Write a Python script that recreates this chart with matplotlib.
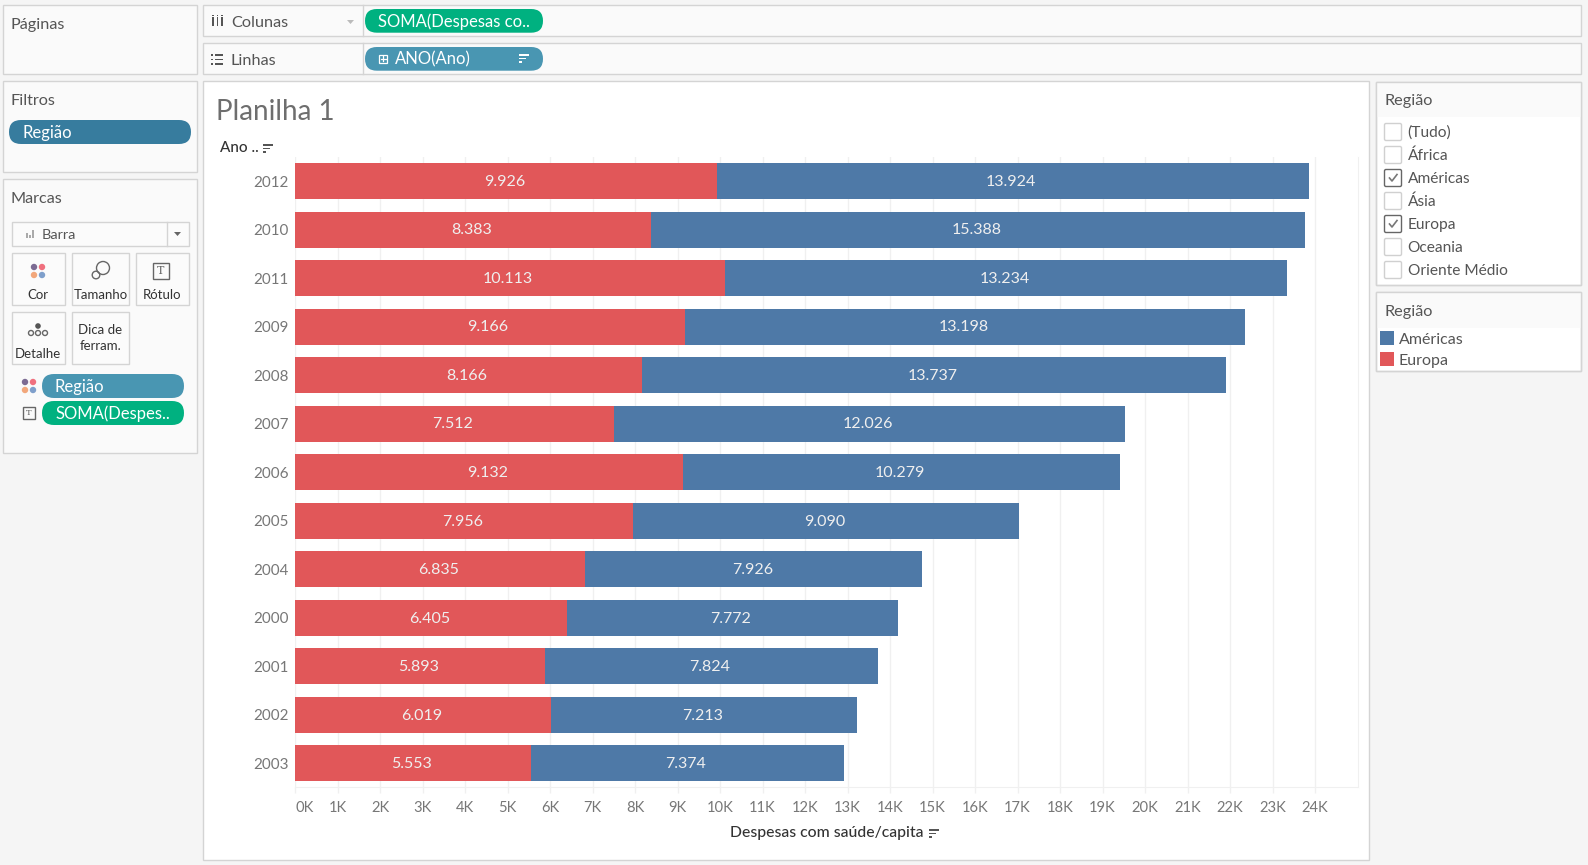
#!/usr/bin/env python3
"""Tableau worksheet: health spending per capita by year, Americas vs Europe"""

import matplotlib
matplotlib.use("Agg")
import matplotlib.pyplot as plt
from matplotlib.patches import Rectangle, FancyBboxPatch, Circle, Polygon
from matplotlib.ticker import FuncFormatter

W, H = 1588, 865

years = ["2012", "2010", "2011", "2009", "2008", "2007", "2006",
         "2005", "2004", "2000", "2001", "2002", "2003"]
europa = [9926, 8383, 10113, 9166, 8166, 7512, 9132, 7956, 6835, 6405, 5893, 6019, 5553]
americas = [13924, 15388, 13234, 13198, 13737, 12026, 10279, 9090, 7926, 7772, 7824, 7213, 7374]
x_ticks = list(range(0, 25000, 1000))

filter_items = ["(Tudo)", "África", "Américas", "Ásia", "Europa", "Oceania", "Oriente Médio"]
filter_checked = ["Américas", "Europa"]
legend_items = ["Américas", "Europa"]

RED = "#E15759"
BLUE = "#4E79A7"
BG = "#F5F5F5"
PANEL = "#FAFAFA"
BORDER = "#D4D4D4"
GRID = "#F0F0F0"
GREEN_PILL = "#00B180"
BLUE_PILL = "#4996B2"
DARK_PILL = "#377C9E"
TEXT = "#555555"
TICK = "#777777"
DARK = "#333333"

plt.rcParams["font.family"] = ["Lato", "DejaVu Sans"]

fig = plt.figure(figsize=(W / 100, H / 100), dpi=100, facecolor=BG)

# overlay in pixel coordinates for the Tableau window around the chart
ui = fig.add_axes([0, 0, 1, 1], zorder=0)
ui.set_xlim(0, W)
ui.set_ylim(H, 0)
ui.axis("off")


def box(x0, y0, x1, y1, face=PANEL, edge=BORDER, lw=1.0):
    ui.add_patch(Rectangle((x0, y0), x1 - x0, y1 - y0, facecolor=face, edgecolor=edge, linewidth=lw))


def label(x, y, s, size=11.7, color=TEXT, ha="left", **kw):
    # lato sits about a pixel high with va=center
    ui.text(x, y + 1, s, fontsize=size, color=color, ha=ha, va="center", **kw)


def pill(x0, y0, x1, y1, color, s, text_x=None):
    h = y1 - y0
    ui.add_patch(FancyBboxPatch((x0, y0), x1 - x0, h, boxstyle=f"round,pad=0,rounding_size={h / 2}",
                                facecolor=color, edgecolor="none"))
    label(text_x if text_x else x0 + 13, (y0 + y1) / 2, s, size=12, color="white")


def sort_icon(x, y, color="#555555"):
    for i, w in enumerate([10, 7, 3]):
        ui.add_patch(Rectangle((x, y + i * 3.6), w, 1.8, facecolor=color, edgecolor="none"))


def color_dots(cx, cy, colors):
    k = 0
    for dy in (-4, 4):
        for dx in (-4, 4):
            ui.add_patch(Circle((cx + dx, cy + dy), 3.2, facecolor=colors[k], edgecolor="none"))
            k += 1


def t_icon(x0, y0, s):
    ui.add_patch(Rectangle((x0, y0), s, s, facecolor="none", edgecolor="#666666", linewidth=1))
    ui.text(x0 + s / 2, y0 + s / 2, "T", fontsize=s * 0.5, color="#666666", ha="center", va="center",
            family="DejaVu Serif")


# left side
box(3, 5, 197, 74)
label(11, 24, "Páginas")
box(3, 81, 197, 172)
label(11, 100, "Filtros")
pill(9, 120, 191, 144, DARK_PILL, "Região", text_x=22)
box(3, 179, 197, 453)
label(11, 198, "Marcas")

box(11.5, 222, 188.6, 245.7, face="#FBFBFB")
ui.plot([167, 167], [222, 245.7], color=BORDER, lw=1)
for i, h in enumerate([5, 3, 8]):
    ui.add_patch(Rectangle((25.5 + i * 3.2, 238 - h), 2, h, facecolor="#AAAAAA", edgecolor="none"))
label(42, 234, "Barra", size=10.4)
ui.add_patch(Polygon([[174, 232], [181, 232], [177.5, 236]], facecolor="#666666", edgecolor="none"))

box(11.5, 253, 65, 305, face="#FBFBFB")
box(72, 253, 129, 305, face="#FBFBFB")
box(136, 253, 189, 305, face="#FBFBFB")
box(11.5, 312, 65, 364, face="#FBFBFB")
box(72, 312, 129, 364, face="#FBFBFB")
color_dots(38, 271, ["#7C6B93", "#F0707E", "#F2A77B", "#7F9FCB"])
ui.add_patch(Circle((103, 268), 6.5, facecolor="none", edgecolor="#666666", linewidth=1))
ui.add_patch(Circle((96, 275), 3.8, facecolor="none", edgecolor="#666666", linewidth=1))
t_icon(153, 263, 16)
label(38, 294, "Cor", size=9.5, color=DARK, ha="center")
label(100.5, 294, "Tamanho", size=9.5, color=DARK, ha="center")
label(162, 294, "Rótulo", size=9.5, color=DARK, ha="center")
ui.add_patch(Circle((38, 326), 2.8, facecolor="#555555", edgecolor="none"))
for cx in (31, 38, 45):
    ui.add_patch(Circle((cx, 333), 2.5, facecolor="none", edgecolor="#666666", linewidth=1))
label(38, 353, "Detalhe", size=9.5, color=DARK, ha="center")
label(100.5, 329, "Dica de", size=9.5, color=DARK, ha="center")
label(100.5, 345, "ferram.", size=9.5, color=DARK, ha="center")

color_dots(29, 386, ["#7C6B93", "#F0707E", "#F2A77B", "#7F9FCB"])
pill(42, 374, 184, 398, BLUE_PILL, "Região", text_x=55)
t_icon(23, 407, 12)
pill(42, 401, 184, 425, GREEN_PILL, "SOMA(Despes..", text_x=55)

# shelves on top
box(203, 5, 1581, 36)
ui.plot([362.5, 362.5], [5, 36], color=BORDER, lw=1)
for dx in (212, 216.5, 221):
    ui.add_patch(Rectangle((dx, 17), 1.8, 9, facecolor="#555555", edgecolor="none"))
    ui.add_patch(Rectangle((dx, 14.5), 1.8, 1.6, facecolor="#555555", edgecolor="none"))
label(231, 22, "Colunas")
ui.add_patch(Polygon([[347, 20], [354, 20], [350.5, 24]], facecolor="#BBBBBB", edgecolor="none"))
pill(365, 9, 543, 32.7, GREEN_PILL, "SOMA(Despesas co..", text_x=378)

box(203, 43, 1581, 74)
ui.plot([362.5, 362.5], [43, 74], color=BORDER, lw=1)
for yy in (54, 58.5, 63):
    ui.add_patch(Rectangle((211, yy), 2.2, 1.8, facecolor="#555555", edgecolor="none"))
    ui.add_patch(Rectangle((215, yy), 8, 1.8, facecolor="#555555", edgecolor="none"))
label(231, 60, "Linhas")
pill(365, 47, 543, 70.7, BLUE_PILL, "ANO(Ano)", text_x=395)
ui.add_patch(Rectangle((379, 54.5), 8, 8, facecolor="none", edgecolor="white", linewidth=0.9))
ui.plot([383, 383], [56, 61], color="white", lw=0.9)
ui.plot([380.5, 385.5], [58.5, 58.5], color="white", lw=0.9)
sort_icon(519, 54, color="white")

# worksheet area
box(203, 81, 1369, 860, face="white")
ui.text(216, 112, "Planilha 1", fontsize=20, color="#6E6E6E", ha="left", va="center")
label(220, 146.5, "Ano ..", size=11, color=DARK, fontweight="medium")
sort_icon(263, 144)
label(730, 832.5, "Despesas com saúde/capita", size=11.3, color=DARK, fontweight="medium")
sort_icon(929, 829)

# filter card
box(1376, 82, 1581, 285, face="white")
box(1376, 82, 1581, 117, face=PANEL, edge="none", lw=0)
ui.add_patch(Rectangle((1376, 82), 205, 203, facecolor="none", edgecolor=BORDER, linewidth=1.0))
label(1384, 100, "Região")
for i, item in enumerate(filter_items):
    yc = 132 + i * 23
    on = item in filter_checked
    ui.add_patch(FancyBboxPatch((1384.5, yc - 8.5), 17, 17, boxstyle="round,pad=0,rounding_size=1.5",
                                facecolor="white", edgecolor="#666666" if on else "#D0D0D0", linewidth=1))
    if on:
        ui.plot([1389.5, 1392, 1397], [yc, yc + 3, yc - 3.5], color="#777777", lw=1.2)
    label(1407.5, yc, item, size=11.2)

# colour legend card
box(1376, 292, 1581, 371, face="white")
box(1376, 292, 1581, 328, face=PANEL, edge="none", lw=0)
ui.add_patch(Rectangle((1376, 292), 205, 79, facecolor="none", edgecolor=BORDER, linewidth=1.0))
label(1384, 311, "Região")
for i, (item, c) in enumerate(zip(legend_items, [BLUE, RED])):
    ui.add_patch(Rectangle((1380, 331 + i * 21), 14, 14, facecolor=c, edgecolor="none"))
    label(1399, 339 + i * 21, item, size=11.5)

# chart
ax = fig.add_axes([295 / W, 1 - 787.3 / H, (1357.5 - 295) / W, (787.3 - 156.75) / H], zorder=1)
ax.patch.set_alpha(0)
positions = list(range(len(years)))
bars_eu = ax.barh(positions, europa, height=0.742, color=RED, linewidth=0, zorder=2)
bars_am = ax.barh(positions, americas, left=europa, height=0.742, color=BLUE, linewidth=0, zorder=2)
for bars in (bars_eu, bars_am):
    labels = [f"{int(b.get_width()):,}".replace(",", ".") for b in bars]
    for t in ax.bar_label(bars, labels=labels, label_type="center", color="#EFEFEF", fontsize=11.5):
        t.xyann = (-1.2, -0.7)

ax.set_xlim(0, 25000)
ax.set_ylim(12.5, -0.5)
ax.set_yticks(positions)
ax.set_yticklabels(years, fontsize=10.9, color=TICK)
ax.set_xticks(x_ticks)
ax.xaxis.set_major_formatter(FuncFormatter(lambda v, _: f"{int(v / 1000)}K"))
ax.tick_params(axis="y", length=0, pad=4.5)
ax.tick_params(axis="x", length=4, width=1, color=GRID, labelsize=10.6, labelcolor=TICK, pad=6)
ax.get_xticklabels()[0].set_ha("left")
ax.grid(axis="x", color=GRID, linewidth=1, zorder=0)
ax.set_axisbelow(True)
for side in ("top", "left"):
    ax.spines[side].set_visible(False)
ax.spines["right"].set_color(GRID)
ax.spines["bottom"].set_color(GRID)

fig.savefig("out.png", dpi=100, facecolor=BG)
